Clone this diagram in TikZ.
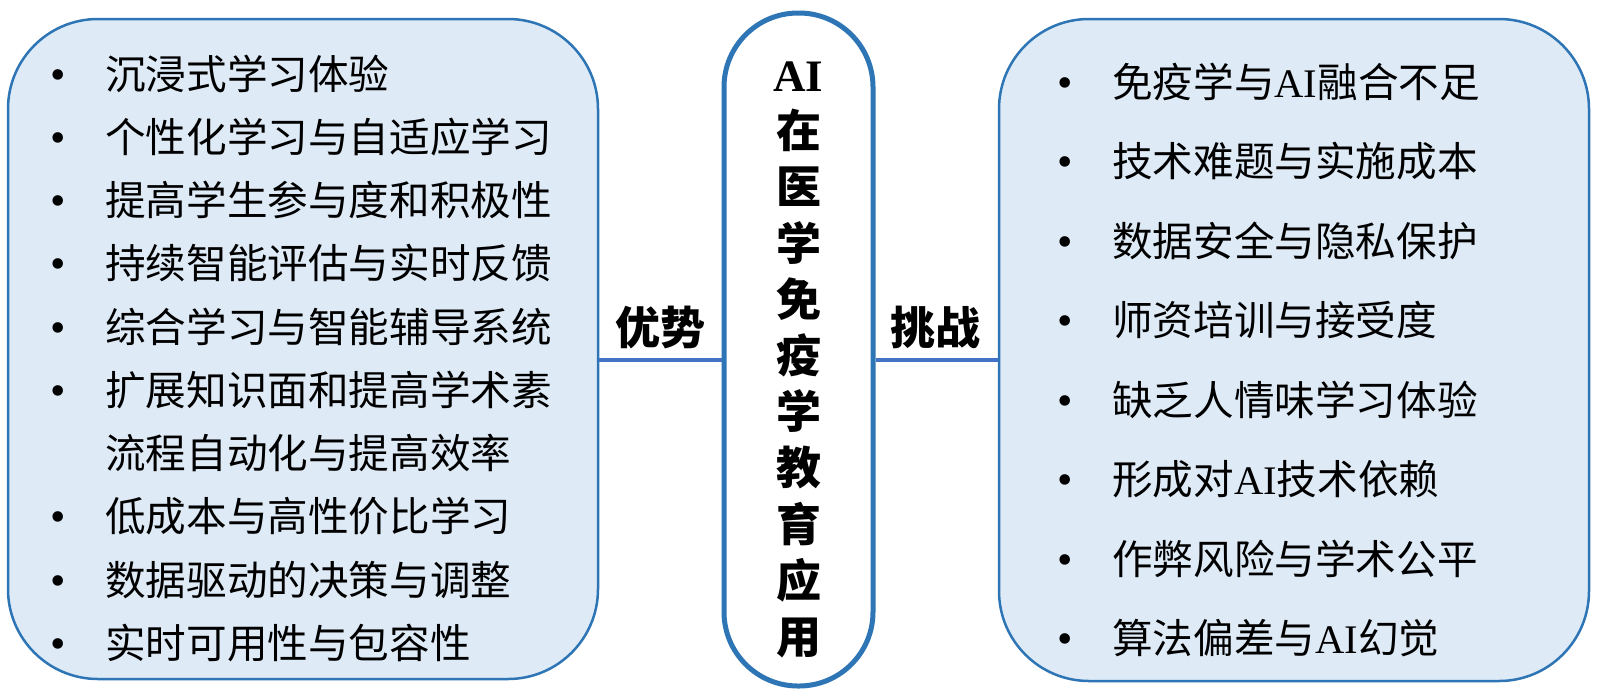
\documentclass[tikz,border=0pt]{standalone}
\usepackage{fontspec}
\setmainfont{Liberation Serif}
\newfontfamily\cjk{Noto Sans CJK SC}
\newcommand\zh[1]{{\cjk #1}}
\newcommand\bul{\makebox[55pt][l]{\fontsize{44}{44}\selectfont •}}
\definecolor{boxblue}{HTML}{2E75B6}
\definecolor{boxfill}{HTML}{DEEAF6}
\definecolor{connblue}{HTML}{4472C4}
\tikzset{
  panel/.style={draw=boxblue, fill=boxfill, line width=2.5pt, rounded corners=90pt,
    minimum width=590pt, inner sep=0pt},
  core/.style={draw=boxblue, fill=white, line width=5pt, rounded corners=74pt,
    minimum width=149pt, minimum height=673pt, inner sep=0pt},
  coretext/.style={align=center, inner sep=0pt, font=\bfseries\fontsize{45}{56.2}\selectfont},
  item/.style={anchor=west, inner sep=0pt, font=\fontsize{40.6}{48}\selectfont},
  lab/.style={inner sep=0pt, font=\bfseries\fontsize{45}{54}\selectfont},
  conn/.style={draw=connblue, line width=4pt}
}
\begin{document}
\begin{tikzpicture}[x=1pt,y=-1pt]
\useasboundingbox (0,0) rectangle (1600,697);
% panels
\node[panel, minimum height=660pt] (L) at (303,349) {};
\node[panel, minimum height=662pt] (R) at (1294,350) {};
\node[core] (C) at (798.5,349.5) {};
\node[coretext] (Ct) at (798.5,360) {AI\\ \zh{在}\\ \zh{医}\\ \zh{学}\\ \zh{免}\\ \zh{疫}\\ \zh{学}\\ \zh{教}\\ \zh{育}\\ \zh{应}\\ \zh{用}};
% connectors
\draw[conn] ([yshift=-11pt]L.east) -- ([yshift=-10.5pt]C.west);
\draw[conn] ([yshift=-10.5pt]C.east) -- ([yshift=-10pt]R.west);
\node[lab] (adv) at (660,327) {\zh{优势}};
\node[lab] (chal) at (935,327) {\zh{挑战}};
% left list
\node[item] (l1) at (50,73.5) {\bul\zh{沉浸式学习体验}};
\node[item] (l2) at (50,136.8) {\bul\zh{个性化学习与自适应学习}};
\node[item] (l3) at (50,200.1) {\bul\zh{提高学生参与度和积极性}};
\node[item] (l4) at (50,263.3) {\bul\zh{持续智能评估与实时反馈}};
\node[item] (l5) at (50,326.6) {\bul\zh{综合学习与智能辅导系统}};
\node[item] (l6) at (50,389.9) {\bul\zh{扩展知识面和提高学术素}};
\node[item] (l7) at (105,453.2) {\zh{流程自动化与提高效率}};
\node[item] (l8) at (50,516.5) {\bul\zh{低成本与高性价比学习}};
\node[item] (l9) at (50,579.7) {\bul\zh{数据驱动的决策与调整}};
\node[item] (l10) at (50,643) {\bul\zh{实时可用性与包容性}};
% right list
\node[item] (r1) at (1057,81.6) {\bul\zh{免疫学与}AI\zh{融合不足}};
\node[item] (r2) at (1057,161.1) {\bul\zh{技术难题与实施成本}};
\node[item] (r3) at (1057,240.6) {\bul\zh{数据安全与隐私保护}};
\node[item] (r4) at (1057,320.1) {\bul\zh{师资培训与接受度}};
\node[item] (r5) at (1057,399.6) {\bul\zh{缺乏人情味学习体验}};
\node[item] (r6) at (1057,479.1) {\bul\zh{形成对}AI\zh{技术依赖}};
\node[item] (r7) at (1057,558.6) {\bul\zh{作弊风险与学术公平}};
\node[item] (r8) at (1057,638) {\bul\zh{算法偏差与}AI\zh{幻觉}};
\end{tikzpicture}
\end{document}
